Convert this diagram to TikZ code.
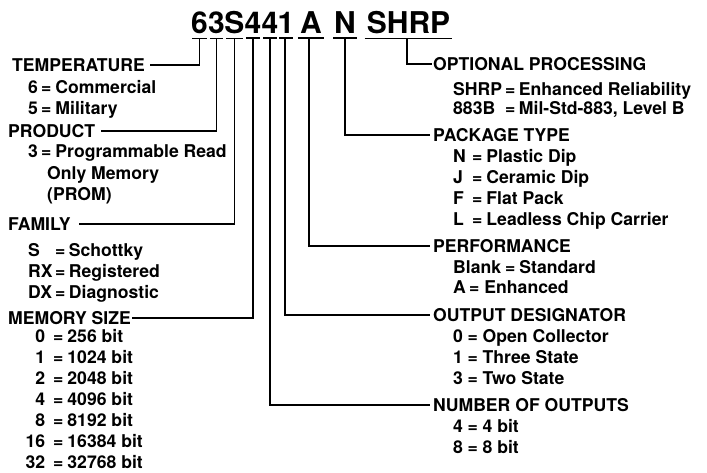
\documentclass[tikz,border=0pt]{standalone}
\usepackage{fontspec}
\setmainfont{TeX Gyre Heros}
\newcommand{\kvitem}[4]{\makebox[#1][l]{#2}=\hspace{#3}#4}
\newcommand{\memitem}[2]{\makebox[17pt][r]{#1}\hspace{8pt}=\hspace{4pt}#2}
\begin{document}
\begin{tikzpicture}[x=1pt,y=-1pt,
  ttl/.style={font=\fontsize{30}{34}\selectfont\bfseries, inner sep=0pt, anchor=base},
  head/.style={font=\fontsize{17.6}{20}\selectfont\bfseries, inner sep=0pt, text height=12.6pt, text depth=0pt, anchor=west},
  itm/.style={font=\fontsize{17.6}{20}\selectfont\bfseries, inner sep=0pt, anchor=base west},
  ln/.style={line width=1.5pt, line cap=butt}]
\useasboundingbox (0,0) rectangle (707,472);
% title characters
\node[ttl] (c6)  at (199.5,33) {6};
\node[ttl] (c3)  at (216.5,33) {3};
\node[ttl] (cS)  at (234.5,33) {S};
\node[ttl] (c4a) at (253,33) {4};
\node[ttl] (c4b) at (270,33) {4};
\node[ttl] (c1)  at (286,33) {1};
\node[ttl] (cA)  at (311,33) {A};
\node[ttl] (cN)  at (345,33) {N};
\node[ttl] (cP)  at (408.5,33) {SHRP};
% underlines
\foreach \n/\t in {c6/1.2pt, c3/2pt, cS/2pt, c4a/1.5pt, c4b/2pt, c1/2pt, cA/-2pt, cN/-0.5pt, cP/-2pt}
  \draw[ln] ([shift={(\t,-5pt)}]\n.south west) -- ([shift={(-\t,-5pt)}]\n.south east);
% headings
\node[head] (temp) at (12,65)  {TEMPERATURE};
\node[head] (prod) at (8,131)  {PRODUCT};
\node[head] (fam)  at (8,224)  {FAMILY};
\node[head] (mem)  at (8,318)  {MEMORY SIZE};
\node[head] (opt)  at (433,64)  {OPTIONAL PROCESSING};
\node[head] (pack) at (433,135) {PACKAGE TYPE};
\node[head] (perf) at (433,246) {PERFORMANCE};
\node[head] (outd) at (433,315) {OUTPUT DESIGNATOR};
\node[head] (nout) at (433,405) {NUMBER OF OUTPUTS};
% connectors
\draw[ln] ([yshift=-5pt]c6.south) |- ([xshift=5pt]temp.east);
\draw[ln] ([yshift=-5pt]c3.south) |- ([xshift=6pt]prod.east);
\draw[ln] ([yshift=-5pt]cS.south) |- ([xshift=8pt]fam.east);
\draw[ln] ([yshift=-5pt]c4a.south) |- ([xshift=1pt]mem.east);
\draw[ln] ([yshift=-5pt]c4b.south) |- ([xshift=-3pt]nout.west);
\draw[ln] ([xshift=-1pt,yshift=-5pt]c1.south) |- ([xshift=-3pt]outd.west);
\draw[ln] ([xshift=-2pt,yshift=-5pt]cA.south) |- ([xshift=-3pt]perf.west);
\draw[ln] ([yshift=-5pt]cN.south) |- ([xshift=-3pt]pack.west);
\draw[ln] ([xshift=-1.5pt,yshift=-5pt]cP.south) |- ([xshift=-1pt]opt.west);
% left items
\node[itm] (t1) at (28,93)  {\kvitem{13pt}{6}{4pt}{Commercial}};
\node[itm] (t2) at (28,114) {\kvitem{13pt}{5}{4pt}{Military}};
\node[itm] (p1) at (28,157) {\kvitem{13pt}{3}{4pt}{Programmable Read}};
\node[itm] (p2) at (47,179) {Only Memory};
\node[itm] (p3) at (47,200) {(PROM)};
\node[itm] (f1) at (28,256) {\kvitem{27pt}{S}{3.5pt}{Schottky}};
\node[itm] (f2) at (28,277) {\kvitem{27pt}{RX}{3.5pt}{Registered}};
\node[itm] (f3) at (28,298) {\kvitem{27pt}{DX}{3.5pt}{Diagnostic}};
\node[itm] (m1) at (28,342) {\memitem{0}{256 bit}};
\node[itm] (m2) at (28,363) {\memitem{1}{1024 bit}};
\node[itm] (m3) at (28,384.5) {\memitem{2}{2048 bit}};
\node[itm] (m4) at (28,405.5) {\memitem{4}{4096 bit}};
\node[itm] (m5) at (28,426.5) {\memitem{8}{8192 bit}};
\node[itm] (m6) at (28,447.5) {\memitem{16}{16384 bit}};
\node[itm] (m7) at (28,468) {\memitem{32}{32768 bit}};
% right items
\node[itm] (o1) at (453,95)  {\kvitem{52pt}{SHRP}{3.5pt}{Enhanced Reliability}};
\node[itm] (o2) at (453,114) {\kvitem{52pt}{883B}{3.5pt}{Mil-Std-883, Level B}};
\node[itm] (k1) at (453,162) {\kvitem{19pt}{N}{4pt}{Plastic Dip}};
\node[itm] (k2) at (453,183) {\kvitem{19pt}{J}{4pt}{Ceramic Dip}};
\node[itm] (k3) at (453,204) {\kvitem{19pt}{F}{4pt}{Flat Pack}};
\node[itm] (k4) at (453,225) {\kvitem{19pt}{L}{4pt}{Leadless Chip Carrier}};
\node[itm] (r1) at (453,273) {\kvitem{52pt}{Blank}{4pt}{Standard}};
\node[itm] (r2) at (453,293) {\kvitem{16pt}{A}{5pt}{Enhanced}};
\node[itm] (d1) at (453,342) {\kvitem{14.5pt}{0}{4.7pt}{Open Collector}};
\node[itm] (d2) at (453,363) {\kvitem{14.5pt}{1}{4.7pt}{Three State}};
\node[itm] (d3) at (453,384) {\kvitem{14.5pt}{3}{4.7pt}{Two State}};
\node[itm] (n1) at (453,432) {\kvitem{14.5pt}{4}{4.7pt}{4 bit}};
\node[itm] (n2) at (453,453) {\kvitem{14.5pt}{8}{4.7pt}{8 bit}};
\end{tikzpicture}
\end{document}
